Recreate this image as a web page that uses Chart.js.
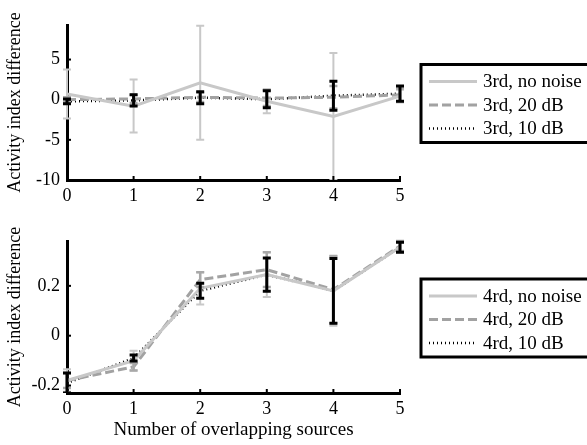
<!DOCTYPE html>
<html>
<head>
<meta charset="utf-8">
<script src="https://cdn.jsdelivr.net/npm/chart.js@4/dist/chart.umd.min.js"></script>
<style>
    html, body { margin: 0; padding: 0; background: #fff; }
    #wrap { position: relative; width: 587px; height: 445px; overflow: hidden; }
    #topChart { position: absolute; left: 0; top: 0; }
    #bottomChart { position: absolute; left: 0; top: 220px; }
</style>
</head>
<body>
<div id="wrap">
    <canvas id="topChart" width="587" height="218"></canvas>
    <canvas id="bottomChart" width="587" height="225"></canvas>
</div>
<script>
// Number of overlapping sources
const sources = [0, 1, 2, 3, 4, 5];

// Tick labels
const topTicks = [-10, -5, 0, 5];
const bottomTicks = [-0.2, 0, 0.2];

const topLabels = ['3rd, no noise', '3rd, 20 dB', '3rd, 10 dB'];
const bottomLabels = ['4rd, no noise', '4rd, 20 dB', '4rd, 10 dB'];

// Upper panel (3rd)
const top3NoNoise    = [0.7, -0.8, 2.1, -0.2, -2.1, 0.45];
const top3NoNoiseErr = [3.05, 3.3, 7.1, 1.5, 7.9, 0.8];
const top3Db20       = [0.0, 0.1, 0.3, 0.2, 0.3, 0.6];
const top3Db20Err    = [0.3, 0.5, 0.6, 1.0, 1.4, 0.8];
const top3Db10       = [-0.2, -0.1, 0.25, 0.05, 0.5, 0.75];
const top3Db10Err    = [0.3, 0.7, 0.75, 1.05, 1.8, 0.95];

// Lower panel (4rd)
const bot4NoNoise    = [-0.18, -0.1, 0.19, 0.245, 0.18, 0.355];
const bot4NoNoiseErr = [0.045, 0.04, 0.065, 0.09, 0.14, 0.02];
const bot4Db20       = [-0.18, -0.125, 0.225, 0.265, 0.185, 0.36];
const bot4Db20Err    = [0.03, 0.015, 0.03, 0.07, 0.135, 0.02];
const bot4Db10       = [-0.19, -0.09, 0.18, 0.245, 0.18, 0.355];
const bot4Db10Err    = [0.04, 0.012, 0.03, 0.067, 0.13, 0.02];

const FONT = "'Liberation Serif', 'DejaVu Serif', serif";

const seriesStyles = [
    { color: '#c8c8c8', width: 3, dash: [], errColor: '#c8c8c8', errWidth: 2 },
    { color: '#a2a2a2', width: 3, dash: [9, 4], errColor: '#a8a8a8', errWidth: 2.5 },
    { color: '#000000', width: 2.5, dash: [1, 3], errColor: '#000000', errWidth: 3 }
];

function toPoints(values) {
    return sources.map((s, i) => ({ x: s, y: values[i] }));
}

// Vertical error bars with caps
const errorBars = {
    id: 'errorBars',
    afterDatasetsDraw(chart) {
        const ctx = chart.ctx;
        const xs = chart.scales.x, ys = chart.scales.y;
        const area = chart.chartArea;
        ctx.save();
        ctx.beginPath();
        ctx.rect(area.left - 10, area.top - 2, area.width + 20, area.height + 2);
        ctx.clip();
        chart.data.datasets.forEach(ds => {
            ctx.strokeStyle = ds.errColor;
            ctx.lineWidth = ds.errWidth;
            ctx.setLineDash([]);
            ds.data.forEach((p, j) => {
                const e = ds.errors[j];
                const x = xs.getPixelForValue(p.x);
                const y1 = ys.getPixelForValue(p.y + e);
                const y2 = ys.getPixelForValue(p.y - e);
                ctx.beginPath();
                ctx.moveTo(x, y1); ctx.lineTo(x, y2);
                ctx.moveTo(x - 4, y1); ctx.lineTo(x + 4, y1);
                ctx.moveTo(x - 4, y2); ctx.lineTo(x + 4, y2);
                ctx.stroke();
            });
        });
        ctx.restore();
    }
};

// Small inward tick marks on both axes
const innerTicks = {
    id: 'innerTicks',
    afterDraw(chart) {
        const ctx = chart.ctx;
        const area = chart.chartArea;
        ctx.save();
        ctx.strokeStyle = '#000';
        ctx.lineWidth = 2;
        chart.scales.x.ticks.forEach(t => {
            const x = chart.scales.x.getPixelForValue(t.value);
            ctx.beginPath();
            ctx.moveTo(x, area.bottom);
            ctx.lineTo(x, area.bottom - 4);
            ctx.stroke();
        });
        chart.scales.y.ticks.forEach(t => {
            const y = chart.scales.y.getPixelForValue(t.value);
            ctx.beginPath();
            ctx.moveTo(area.left, y);
            ctx.lineTo(area.left + 4, y);
            ctx.stroke();
        });
        ctx.restore();
    }
};

// Boxed legend to the right of the plot
const boxLegend = {
    id: 'boxLegend',
    afterDraw(chart, args, opts) {
        const ctx = chart.ctx;
        const area = chart.chartArea;
        const left = area.right + 21;
        const top = (area.top + area.bottom) / 2 - 38;
        ctx.save();
        ctx.strokeStyle = '#000';
        ctx.lineWidth = 3;
        ctx.setLineDash([]);
        ctx.strokeRect(left, top, 200, 78);
        ctx.font = '19px ' + FONT;
        ctx.textBaseline = 'middle';
        ctx.fillStyle = '#000';
        chart.data.datasets.forEach((ds, i) => {
            const y = top + 17 + i * 23.5;
            ctx.strokeStyle = ds.borderColor;
            ctx.lineWidth = ds.borderWidth;
            ctx.setLineDash(ds.borderDash);
            ctx.beginPath();
            ctx.moveTo(left + 8, y);
            ctx.lineTo(left + 56, y);
            ctx.stroke();
            ctx.fillText(ds.label, left + 62, y + 1);
        });
        ctx.restore();
    }
};

function buildChart(canvasId, labels, series, errs, yMin, yMax, yTicks, opts) {
    const datasets = series.map((vals, i) => ({
        label: labels[i],
        data: toPoints(vals),
        errors: errs[i],
        borderColor: seriesStyles[i].color,
        borderWidth: seriesStyles[i].width,
        borderDash: seriesStyles[i].dash,
        errColor: seriesStyles[i].errColor,
        errWidth: seriesStyles[i].errWidth,
        pointRadius: 0,
        fill: false,
        tension: 0
    }));

    return new Chart(document.getElementById(canvasId), {
        type: 'line',
        data: { datasets },
        plugins: [errorBars, innerTicks, boxLegend],
        options: {
            responsive: false,
            animation: false,
            clip: false,
            layout: { padding: { top: opts.padTop, right: 187, left: 0, bottom: 0 } },
            plugins: {
                legend: { display: false },
                tooltip: { enabled: false }
            },
            scales: {
                x: {
                    type: 'linear',
                    min: 0,
                    max: 5,
                    afterBuildTicks: axis => { axis.ticks = sources.map(v => ({ value: v })); },
                    afterFit: axis => { axis.height = opts.xHeight; },
                    grid: { display: false, drawTicks: false },
                    border: { display: true, color: '#000', width: 3 },
                    ticks: { color: '#000', font: { family: FONT, size: 18 }, padding: 5, maxRotation: 0 },
                    title: {
                        display: !!opts.xTitle,
                        text: opts.xTitle || '',
                        color: '#000',
                        font: { family: FONT, size: 19 },
                        padding: { top: 0, bottom: 4 }
                    }
                },
                y: {
                    min: yMin,
                    max: yMax,
                    afterBuildTicks: axis => { axis.ticks = yTicks.map(v => ({ value: v })); },
                    afterFit: axis => { axis.width = 67; },
                    grid: { display: false, drawTicks: false },
                    border: { display: true, color: '#000', width: 3 },
                    ticks: {
                        color: '#000',
                        font: { family: FONT, size: 18 },
                        padding: 7,
                        callback: v => String(v)
                    },
                    title: {
                        display: true,
                        text: 'Activity index difference',
                        color: '#000',
                        font: { family: FONT, size: 18 },
                        padding: { top: 4, bottom: 0 }
                    }
                }
            }
        }
    });
}

buildChart('topChart', topLabels,
    [top3NoNoise, top3Db20, top3Db10],
    [top3NoNoiseErr, top3Db20Err, top3Db10Err],
    -10, 9.3, topTicks,
    { padTop: 25, xHeight: 38 });

buildChart('bottomChart', bottomLabels,
    [bot4NoNoise, bot4Db20, bot4Db10],
    [bot4NoNoiseErr, bot4Db20Err, bot4Db10Err],
    -0.23, 0.38, bottomTicks,
    { padTop: 21, xHeight: 52, xTitle: 'Number of overlapping sources' });
</script>
</body>
</html>
